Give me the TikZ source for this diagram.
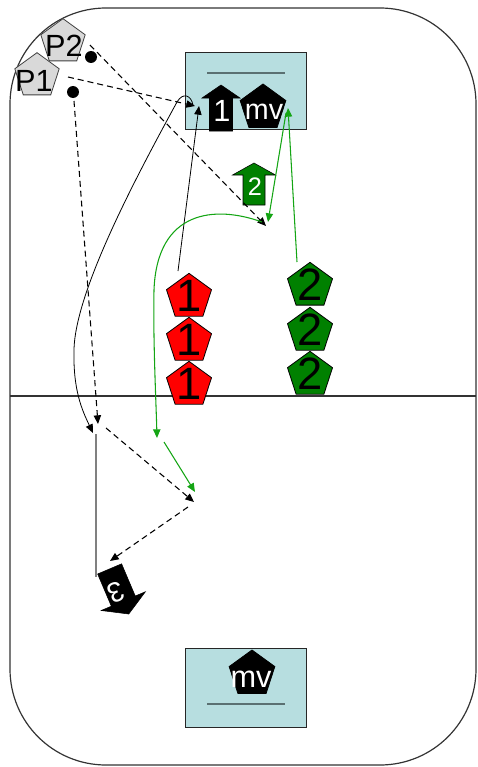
\documentclass[tikz,border=0pt]{standalone}
\usepackage{fontspec}
\setmainfont{Liberation Sans}
\usetikzlibrary{shapes.geometric,arrows.meta}

\definecolor{boxfill}{RGB}{183,222,224}
\definecolor{boxrule}{RGB}{90,112,114}
\definecolor{pgray}{RGB}{217,217,217}
\definecolor{teamgreen}{RGB}{0,128,0}
\definecolor{passgreen}{RGB}{20,165,20}
\definecolor{runcol}{RGB}{128,128,128}

\tikzset{
  % block arrow geometry (pixels of the drawing grid)
  bah/.store in=\bah, bah=19,
  bsh/.store in=\bsh, bsh=11.5,
  bap/.store in=\bap, bap=23,
  bbase/.store in=\bbase, bbase=10,
  btail/.store in=\btail, btail=23,
  blockarrow/.pic={
    \path[pic actions] (0,-\bap) -- (\bah,-\bbase) -- (\bsh,-\bbase) -- (\bsh,\btail)
      -- (-\bsh,\btail) -- (-\bsh,-\bbase) -- (-\bah,-\bbase) -- cycle;
  },
  pent/.style={regular polygon, regular polygon sides=5, minimum size=#1,
    inner sep=0pt, outer sep=0pt, draw=black, line width=0.6pt},
  redpl/.style={pent=35.5pt, fill=red},
  greenpl/.style={pent=35.5pt, fill=teamgreen},
  graypl/.style={pent=35pt, fill=pgray, draw=black!75},
  blackpl/.style={pent=36pt, fill=black},
  bignum/.style={font=\fontsize{34}{34}\selectfont, inner sep=0pt},
  plabel/.style={font=\fontsize{23}{23}\selectfont, inner sep=0pt},
  whitetxt/.style={text=white, inner sep=0pt},
  dot/.style={circle, fill=black, minimum size=9pt, inner sep=0pt},
  zone/.style={draw=black!85, fill=boxfill, line width=0.7pt},
  zoneline/.style={draw=boxrule, line width=1.6pt},
  tip/.style={-{Triangle[length=6.5pt,width=5.5pt]}},
  dashline/.style={tip, draw=black, line width=0.8pt, dash pattern=on 4.5pt off 3pt},
  passline/.style={tip, draw=black, line width=0.6pt},
  greenline/.style={tip, draw=passgreen, line width=0.8pt},
  runline/.style={draw=runcol, line width=1.2pt}
}

\begin{document}
\begin{tikzpicture}[x=0.75pt,y=-0.75pt]
\useasboundingbox (0,0) rectangle (478,767);

% pitch outline and half-way line
\draw[draw=black!80, line width=0.9pt, rounded corners=72pt] (10,8) rectangle (476,765);
\draw[draw=black!80, line width=0.8pt] (10,396) -- (476,396);

% goal zones
\draw[zone] (185,52) rectangle (306,129);
\draw[zoneline] (207,73) -- (285,73);
\draw[zone] (185,648) rectangle (306,727);
\draw[zoneline] (207,704) -- (285,704);

% opponents P1, P2
\node[graypl] (p2) at (63,42) {};
\node[plabel] (p2t) at (64,46) {P2};
\node[graypl] (p1) at (37,76) {};
\node[plabel] (p1t) at (34,81) {P1};
\node[dot] (p2dot) at (91,57) {};
\node[dot] (p1dot) at (73,92) {};

% players in the upper zone
\pic[fill=black, draw=black] (one) at (221,108) {blockarrow};
\node[whitetxt, font=\fontsize{23}{23}\selectfont] (onet) at (222,111) {1};
\node[blackpl] (mvtop) at (263,108) {};
\node[whitetxt, font=\fontsize{21.5}{21.5}\selectfont] (mvtopt) at (264,112) {mv};

\pic[fill=teamgreen, draw=black, bah=21.5, bsh=11, bap=21, bbase=9, btail=21] (two) at (254,184) {blockarrow};
\node[whitetxt, font=\fontsize{19}{19}\selectfont] (twot) at (255,187) {2};

% bottom zone player
\node[blackpl] (mvbot) at (252,674) {};
\node[whitetxt, font=\fontsize{23}{23}\selectfont] (mvbott) at (251,679) {mv};

% red and green stacks
\node[redpl] (r1) at (189,297) {};
\node[bignum] (r1t) at (189,296) {1};
\node[redpl] (r2) at (189,341) {};
\node[bignum] (r2t) at (189,340) {1};
\node[redpl] (r3) at (189,385) {};
\node[bignum] (r3t) at (189,384) {1};

\node[greenpl] (g1) at (310,286) {};
\node[bignum] (g1t) at (310,285) {2};
\node[greenpl] (g2) at (310,331) {};
\node[bignum] (g2t) at (310,330) {2};
\node[greenpl] (g3) at (310,375) {};
\node[bignum] (g3t) at (310,374) {2};

% player 3 turned down the field
\pic[fill=black, draw=black, bah=24, bsh=13, bap=25, bbase=11, btail=24, rotate=203] (three) at (119,591) {blockarrow};
\node[whitetxt, font=\fontsize{21}{21}\selectfont, rotate=203] (threet) at (116,592) {3};

% end points of the movements
\coordinate (d1s) at (68,77);   \coordinate (d1e) at (195,106);
\coordinate (d2s) at (90,45);   \coordinate (d2e) at (266,226);
\coordinate (d3s) at (74,101);  \coordinate (d3e) at (98,424);
\coordinate (d4s) at (106,428); \coordinate (d4e) at (194,502);
\coordinate (d5s) at (188,507); \coordinate (d5e) at (110,561);
\coordinate (cs) at (193,105);  \coordinate (ce) at (93,433);
\coordinate (ks) at (178,271);  \coordinate (ke) at (199,106);
\coordinate (rs) at (96,434);   \coordinate (re) at (96,577);
\coordinate (gas) at (297,262); \coordinate (gae) at (288,108);
\coordinate (gbs) at (286,113); \coordinate (gbe) at (268,222);
\coordinate (gcs) at (262,222); \coordinate (gce) at (157,438);
\coordinate (gds) at (164,442); \coordinate (gde) at (195,492);

% opponents' runs (dashed)
\draw[dashline] (d1s) -- (d1e);
\draw[dashline] (d2s) -- (d2e);
\draw[dashline] (d3s) -- (d3e);
\draw[dashline] (d4s) -- (d4e);
\draw[dashline] (d5s) -- (d5e);

% passes of team 1 (black)
\draw[passline] (cs) .. controls (191,95) and (183,92) .. (177,102)
  .. controls (140,170) and (75,290) .. (74,350)
  .. controls (73,390) and (82,410) .. (ce);
\draw[passline] (ks) -- (ke);
\draw[runline] (rs) -- (re);

% passes of team 2 (green)
\draw[greenline] (gas) -- (gae);
\draw[greenline] (gbs) -- (gbe);
\draw[greenline] (gcs) .. controls (215,205) and (157,210) .. (154,290)
  .. controls (153,340) and (156,400) .. (gce);
\draw[greenline] (gds) -- (gde);
\end{tikzpicture}
\end{document}
